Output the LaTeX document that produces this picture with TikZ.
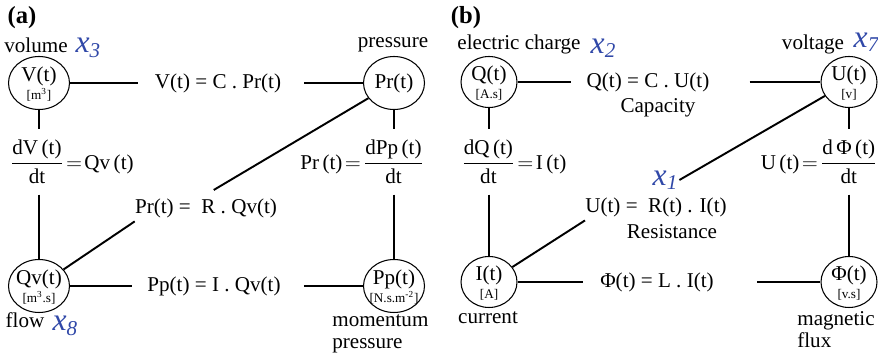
\documentclass[tikz,border=0pt]{standalone}
\usepackage{amsmath}
\usepackage{fontspec}
\setmainfont{Liberation Serif}[BoldFont={Liberation Serif Bold}, ItalicFont={Liberation Serif Italic}]
\usetikzlibrary{shapes.geometric}

\definecolor{xblue}{RGB}{48,72,168}
\newcommand{\statelbl}[2]{\makebox[0pt]{\smash{\raisebox{-4.5pt}{\begin{tabular}{@{}c@{}}#1\\[-4pt]{\fontsize{7.5}{8}\selectfont[#2]}\end{tabular}}}}}
\newcommand{\xvarlbl}[1]{x\raisebox{-0.3ex}{\fontsize{12}{12}\selectfont#1}}

\tikzset{
  state/.style={ellipse, draw, line width=0.6pt, minimum width=1.22cm, minimum height=1.06cm, inner sep=0pt, font=\fontsize{12}{14}\selectfont},
  stateb/.style={state, minimum width=1.12cm, minimum height=1.02cm},
  link/.style={line width=1.1pt},
  eq/.style={inner xsep=0pt, inner ysep=2pt, font=\fontsize{12}{14}\selectfont},
  frac/.style={inner sep=6pt, font=\fontsize{12}{14}\selectfont},
  lbl/.style={inner sep=0pt, font=\fontsize{12}{12.5}\selectfont},
  xvar/.style={inner sep=1pt, text=xblue, font=\fontsize{18}{19}\selectfont\itshape},
  title/.style={inner sep=0pt, font=\fontsize{14}{16}\selectfont\bfseries}
}

\begin{document}
\begin{tikzpicture}[x=0.02cm, y=-0.02cm]
  \useasboundingbox (0,0) rectangle (878,357);

  % (a) hydraulic analogy
  \node[title] (ta) at (22,18) {(a)};
  \node[state] (V) at (39,83) {\statelbl{V(t)}{m\textsuperscript{3}}};
  \node[state] (Pr) at (394,83) {\makebox[0pt]{Pr(t)}};
  \node[state] (Qv) at (39,286) {\statelbl{Qv(t)}{m\textsuperscript{3}.s}};
  \node[state] (Pp) at (394,286) {\statelbl{Pp(t)}{N.s.m\textsuperscript{-2}}};

  \node[lbl] (lvol) at (36,45) {volume};
  \node[xvar] (x3) at (88,48) {\xvarlbl{3}};
  \node[lbl] (lpres) at (393,45) {pressure};
  \node[lbl] (lflow) at (25,320) {flow};
  \node[xvar] (x8) at (65,326) {\xvarlbl{8}};
  \node[lbl, anchor=west, align=left] (lmom) at (332,334) {momentum\\pressure};

  \node[eq] (eqC) at (218,83) {V(t) = C . Pr(t)};
  \node[eq] (eqR) at (206,208) {Pr(t) = \ R . Qv(t)};
  \node[eq] (eqI) at (214,286) {Pp(t) = I . Qv(t)};
  \node[frac] (fracV) at (72,162) {$\dfrac{\mbox{dV\,(t)}}{\mbox{dt}}\!=\!\mbox{Qv\,(t)}$};
  \node[frac] (fracPr) at (362,162) {$\mbox{Pr\,(t)}\!=\!\dfrac{\mbox{dPp\,(t)}}{\mbox{dt}}$};

  \draw[link, shorten >=3.4mm] (V) -- (eqC);
  \draw[link, shorten <=4.6mm] (eqC) -- (Pr);
  \draw[link, shorten >=3mm] (Qv) -- (eqI);
  \draw[link, shorten <=4.6mm] (eqI) -- (Pp);
  \draw[link] (V) -- (V |- fracV.north);
  \draw[link] (V |- fracV.south) -- (Qv);
  \draw[link] (Pr) -- (Pr |- fracPr.north);
  \draw[link] (Pr |- fracPr.south) -- (Pp);
  \draw[link] (Qv) -- (eqR.south west);
  \draw[link, shorten >=1.8mm] (Pr) -- (eqR.north);

  % (b) electric analogy
  \node[title] (tb) at (466,18) {(b)};
  \node[stateb] (Q) at (489,82) {\statelbl{Q(t)}{A.s}};
  \node[stateb] (U) at (849,82) {\statelbl{U(t)}{v}};
  \node[stateb] (I) at (489,282) {\statelbl{I(t)}{A}};
  \node[stateb] (Phi) at (849,282) {\statelbl{Φ(t)}{v.s}};

  \node[lbl] (lcharge) at (519,44) {electric charge};
  \node[xvar] (x2) at (603,48) {\xvarlbl{2}};
  \node[lbl] (lvolt) at (813,44) {voltage};
  \node[xvar] (x7) at (866,42) {\xvarlbl{7}};
  \node[xvar] (x1) at (665,180) {\xvarlbl{1}};
  \node[lbl] (lcur) at (488,318) {current};
  \node[lbl, anchor=west, align=left] (lmag) at (797,330) {magnetic\\flux};

  \node[eq] (eqQ) at (648,82) {Q(t) = C . U(t)};
  \node[lbl] (lcap) at (658,108) {Capacity};
  \node[eq] (eqRb) at (656,207) {U(t) = \ R(t) . I(t)};
  \node[lbl] (lres) at (672,232) {Resistance};
  \node[eq] (eqL) at (657,282) {Φ(t) = L . I(t)};
  \node[frac] (fracQ) at (514,162) {$\dfrac{\mbox{dQ\,(t)}}{\mbox{dt}}\!=\!\mbox{I\,(t)}$};
  \node[frac] (fracU) at (819,162) {$\mbox{U\,(t)}\!=\!\dfrac{\mbox{d\,Φ\,(t)}}{\mbox{dt}}$};

  \draw[link, shorten >=3mm] (Q) -- (eqQ);
  \draw[link, shorten <=8mm] (eqQ) -- (U);
  \draw[link, shorten >=3.4mm] (I) -- (eqL);
  \draw[link, shorten <=8.6mm] (eqL) -- (Phi);
  \draw[link] (Q) -- (Q |- fracQ.north);
  \draw[link] (Q |- fracQ.south) -- (I);
  \draw[link] (U) -- (U |- fracU.north);
  \draw[link] (U |- fracU.south) -- (Phi);
  \draw[link] (I) -- (eqRb.south west);
  \draw[link] (U) -- (x1.east);
\end{tikzpicture}
\end{document}
